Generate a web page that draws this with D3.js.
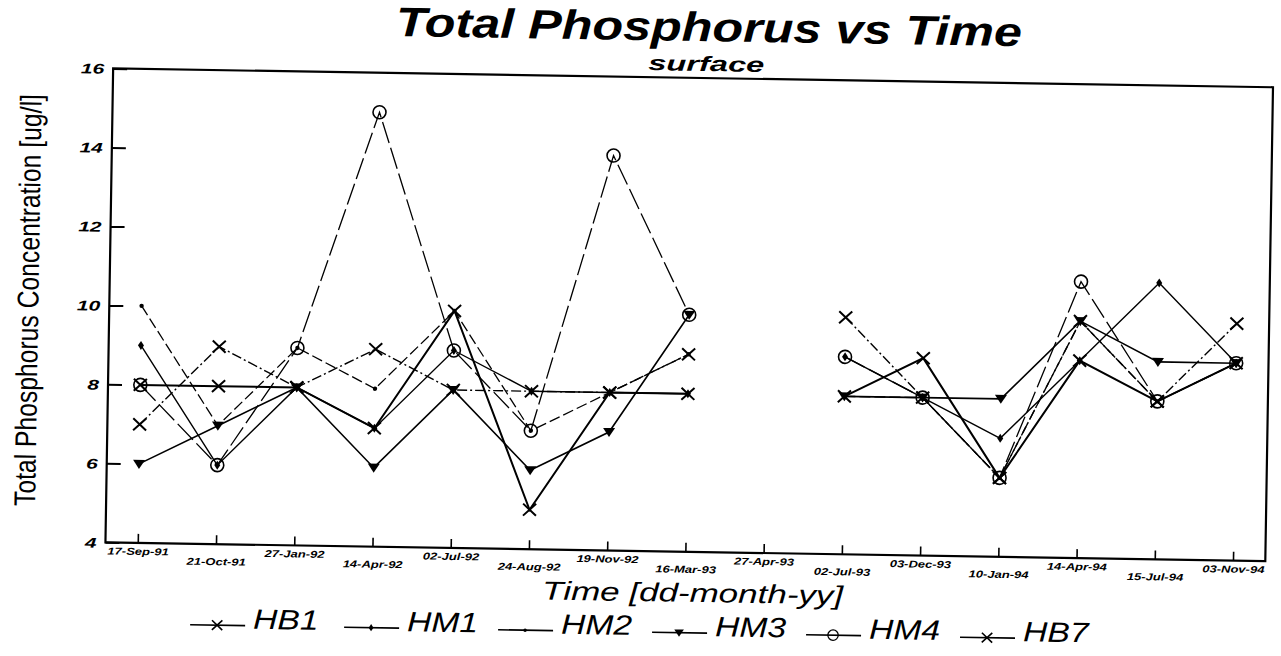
<!DOCTYPE html>
<html>
<head>
<meta charset="utf-8">
<script src="https://cdn.jsdelivr.net/npm/d3@7"></script>
<style>
  body { margin: 0; background: #fff; }
  svg text { font-family: "Liberation Sans", Arial, sans-serif; fill: #000; }
</style>
</head>
<body>
<svg id="chart" width="1281" height="656"></svg>
<script>
var dates = ["17-Sep-91", "21-Oct-91", "27-Jan-92", "14-Apr-92", "02-Jul-92", "24-Aug-92",
  "19-Nov-92", "16-Mar-93", "27-Apr-93", "02-Jul-93", "03-Dec-93", "10-Jan-94",
  "14-Apr-94", "15-Jul-94", "03-Nov-94"];
var yTicks = [4, 6, 8, 10, 12, 14, 16];

// values in ug/l, null = no sample
var hb1 = [7, 9, 8, 9, 8, 8, 8, 9, null, 10, 8, 6, 10, 8, 10];
var hm1 = [9, 6, 8, 7, 9, 8, 8, 8, null, 9, 8, 7, 9, 11, 9];
var hm2 = [10, 7, 9, 8, 10, 7, 8, 9, null, 8, 8, 6, 10, 8, 9];
var hm3 = [6, 7, 8, 6, 8, 6, 7, 10, null, 8, 8, 8, 10, 9, 9];
var hm4 = [8, 6, 9, 15, 9, 7, 14, 10, null, 9, 8, 6, 11, 8, 9];
var hb7 = [8, 8, 8, 7, 10, 5, 8, 8, null, 8, 9, 6, 9, 8, 9];

var seriesNames = ["HB1", "HM1", "HM2", "HM3", "HM4", "HB7"];
var seriesValues = [hb1, hm1, hm2, hm3, hm4, hb7];

// drawing style per station
var styles = {
  HB1: { marker: "x", dash: "10,3,2,3", width: 1.4 },
  HM1: { marker: "diamond", dash: null, width: 1.4 },
  HM2: { marker: "dot", dash: "11,4", width: 1.3 },
  HM3: { marker: "tri", dash: null, width: 1.6 },
  HM4: { marker: "circle", dash: "22,5", width: 1.3 },
  HB7: { marker: "x", dash: null, width: 2 }
};

var series = seriesNames.map(function (name, i) {
  return {
    name: name,
    points: dates.map(function (d, j) { return { date: d, v: seriesValues[i][j] }; })
  };
});

var plotLeft = 109, plotRight = 1269, plotTop = 77, plotBottom = 551;

var svg = d3.select("#chart");
svg.append("rect").attr("width", 1281).attr("height", 656).attr("fill", "#fff");

// the scanned page sits slightly tilted
var g = svg.append("g").attr("transform", "rotate(0.93,640,328)");

var x = d3.scalePoint().domain(dates).range([plotLeft, plotRight]).padding(0.413);
var y = d3.scaleLinear().domain([4, 16]).range([plotBottom, plotTop]);

function stretch(sel, factor) {
  sel.each(function () {
    var w = this.getComputedTextLength();
    d3.select(this).attr("textLength", w * factor).attr("lengthAdjust", "spacingAndGlyphs");
  });
}

// frame
g.append("rect")
  .attr("x", plotLeft).attr("y", plotTop)
  .attr("width", plotRight - plotLeft).attr("height", plotBottom - plotTop)
  .attr("fill", "none").attr("stroke", "#000").attr("stroke-width", 2.2);

// y axis, ticks point inward
var yAxis = g.append("g")
  .attr("transform", "translate(" + plotLeft + ",0)")
  .call(d3.axisLeft(y).tickValues(yTicks).tickSize(-14).tickPadding(9).tickFormat(d3.format("d")));
yAxis.select(".domain").remove();
yAxis.attr("font-family", null).attr("font-size", null);
yAxis.selectAll("line").attr("stroke-width", 2);
yAxis.selectAll("text")
  .style("font-size", "14px").style("font-weight", "bold").style("font-style", "italic")
  .attr("dy", "0.35em");
stretch(yAxis.selectAll("text"), 1.5);

// x axis, staggered labels
var xAxis = g.append("g")
  .attr("transform", "translate(0," + plotBottom + ")")
  .call(d3.axisBottom(x).tickSize(-9).tickPadding(0));
xAxis.select(".domain").remove();
xAxis.attr("font-family", null).attr("font-size", null);
xAxis.selectAll("line").attr("stroke-width", 1.6);
xAxis.selectAll("text")
  .attr("dy", null)
  .attr("y", function (d, i) { return i % 2 ? 21 : 12; })
  .style("font-size", "10px").style("font-weight", "bold").style("font-style", "italic");
stretch(xAxis.selectAll("text"), 1.3);

// lines
var line = d3.line()
  .defined(function (d) { return d.v != null; })
  .x(function (d) { return x(d.date); })
  .y(function (d) { return y(d.v); });

g.append("g").selectAll("path")
  .data(series)
  .enter()
  .append("path")
  .attr("d", function (d) { return line(d.points); })
  .attr("fill", "none")
  .attr("stroke", "#000")
  .attr("stroke-width", function (d) { return styles[d.name].width; })
  .attr("stroke-dasharray", function (d) { return styles[d.name].dash; });

function drawMarker(sel, type) {
  if (type == "x") {
    sel.append("path").attr("d", "M-6.5,-6L6.5,6M-6.5,6L6.5,-6")
      .attr("stroke", "#000").attr("stroke-width", 2).attr("fill", "none");
  } else if (type == "circle") {
    sel.append("circle").attr("r", 6.5)
      .attr("stroke", "#000").attr("stroke-width", 1.6).attr("fill", "none");
  } else if (type == "tri") {
    sel.append("path").attr("d", "M-6,-4L6,-4L0,5Z").attr("fill", "#000");
  } else if (type == "diamond") {
    sel.append("path").attr("d", "M0,-4.5L3,0L0,4.5L-3,0Z").attr("fill", "#000");
  } else if (type == "dot") {
    sel.append("circle").attr("r", 2.2).attr("fill", "#000");
  }
}

// markers
series.forEach(function (s) {
  var pts = s.points.filter(function (d) { return d.v != null; });
  g.append("g").selectAll("g")
    .data(pts)
    .enter()
    .append("g")
    .attr("transform", function (d) { return "translate(" + x(d.date) + "," + y(d.v) + ")"; })
    .each(function () { drawMarker(d3.select(this), styles[s.name].marker); });
});

// titles
g.append("text")
  .attr("x", 704).attr("y", 40)
  .attr("text-anchor", "middle")
  .style("font-size", "41px").style("font-weight", "bold").style("font-style", "italic")
  .attr("textLength", 626).attr("lengthAdjust", "spacingAndGlyphs")
  .text("Total Phosphorus vs Time");

g.append("text")
  .attr("x", 702).attr("y", 70)
  .attr("text-anchor", "middle")
  .style("font-size", "21px").style("font-weight", "bold").style("font-style", "italic")
  .attr("textLength", 116).attr("lengthAdjust", "spacingAndGlyphs")
  .text("surface");

g.append("text")
  .attr("x", 697).attr("y", 601)
  .attr("text-anchor", "middle")
  .style("font-size", "26px").style("font-style", "italic")
  .attr("textLength", 301).attr("lengthAdjust", "spacingAndGlyphs")
  .text("Time [dd-month-yy]");

g.append("text")
  .attr("transform", "translate(38,310) rotate(-90)")
  .attr("text-anchor", "middle")
  .style("font-size", "30px")
  .attr("textLength", 412).attr("lengthAdjust", "spacingAndGlyphs")
  .text("Total Phosphorus Concentration [ug/l]");

// legend
var legend = g.append("g").selectAll("g")
  .data(series)
  .enter()
  .append("g")
  .attr("transform", function (d, i) { return "translate(" + (195 + i * 154) + ",635)"; });

legend.append("line")
  .attr("x1", 0).attr("x2", 55).attr("y1", -3).attr("y2", -3)
  .attr("stroke", "#000").attr("stroke-width", 1.6);

legend.append("g")
  .attr("transform", "translate(27,-3) scale(0.8)")
  .each(function (d) { drawMarker(d3.select(this), styles[d.name].marker); });

var legendText = legend.append("text")
  .attr("x", 63)
  .style("font-size", "28px").style("font-style", "italic")
  .text(function (d) { return d.name; });
stretch(legendText, 1.2);
</script>
</body>
</html>
